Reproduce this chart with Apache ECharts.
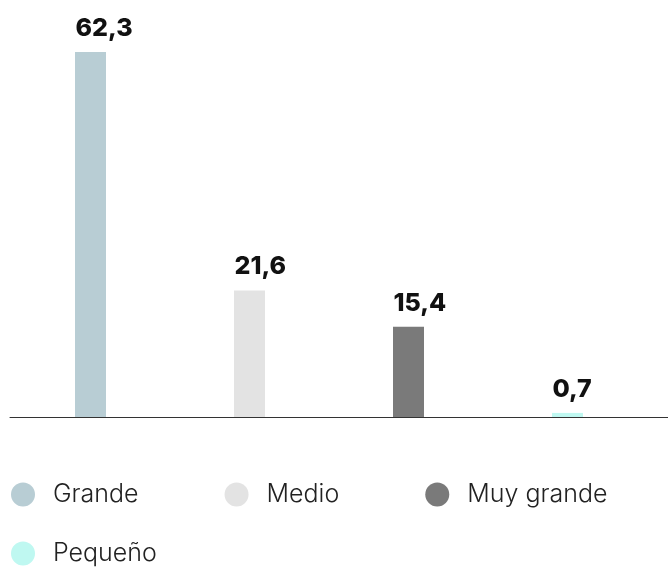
<!DOCTYPE html>
<html><head><meta charset="utf-8">
<script src="https://cdn.jsdelivr.net/npm/echarts@6/dist/echarts.min.js"></script>
<style>html,body{margin:0;padding:0;background:#fff}#c{width:668px;height:567px}</style>
</head><body><div id="c"></div>
<script>
const categories = ['Grande', 'Medio', 'Muy grande', 'Pequeño'];
const values = [62.3, 21.6, 15.4, 0.7];
const colors = ['#b8cdd4', '#e3e3e3', '#7a7a7a', '#bff8f1'];

const FONT = 'Inter';
const chart = echarts.init(document.getElementById('c'));
const series = categories.map((name, i) => ({
  name: name,
  type: 'bar',
  stack: 'all',
  barWidth: 31,
  itemStyle: { color: colors[i] },
  data: values.map((v, j) => (j === i ? v : '-')),
  label: {
    show: true, position: 'top', distance: 11, align: 'left', offset: [-15, 0],
    fontFamily: FONT, fontSize: 25, fontWeight: 800, color: '#111',
    formatter: p => p.value.toFixed(1).replace('.', ',')
  }
}));
const legendText = { fontFamily: FONT, fontSize: 25, fontWeight: 300, color: '#222', padding: [0, 0, 0, 13], lineHeight: 24 };
chart.setOption({
  animation: false,
  grid: [
    { left: 11, right: 21, top: 52, bottom: 150 },
    { left: 10, right: 0, top: 52, bottom: 150 }
  ],
  xAxis: [
    { type: 'category', data: categories, gridIndex: 0, axisLine: { show: false }, axisTick: { show: false }, axisLabel: { show: false } },
    { type: 'value', gridIndex: 1, min: 0, max: 1, axisLine: { show: true, onZero: false, lineStyle: { color: '#333', width: 1 } }, axisTick: { show: false }, axisLabel: { show: false }, splitLine: { show: false } }
  ],
  yAxis: [
    { type: 'value', gridIndex: 0, min: 0, max: 'dataMax', show: false },
    { type: 'value', gridIndex: 1, min: 0, max: 1, show: false }
  ],
  legend: [
    { data: categories.slice(0, 3), left: 11, top: 482, padding: 0, itemGap: 86, itemWidth: 24, itemHeight: 24, icon: 'circle', textStyle: legendText },
    { data: categories.slice(3), left: 11, top: 541, padding: 0, itemGap: 86, itemWidth: 24, itemHeight: 24, icon: 'circle', textStyle: legendText }
  ],
  series: series
});
</script></body></html>
